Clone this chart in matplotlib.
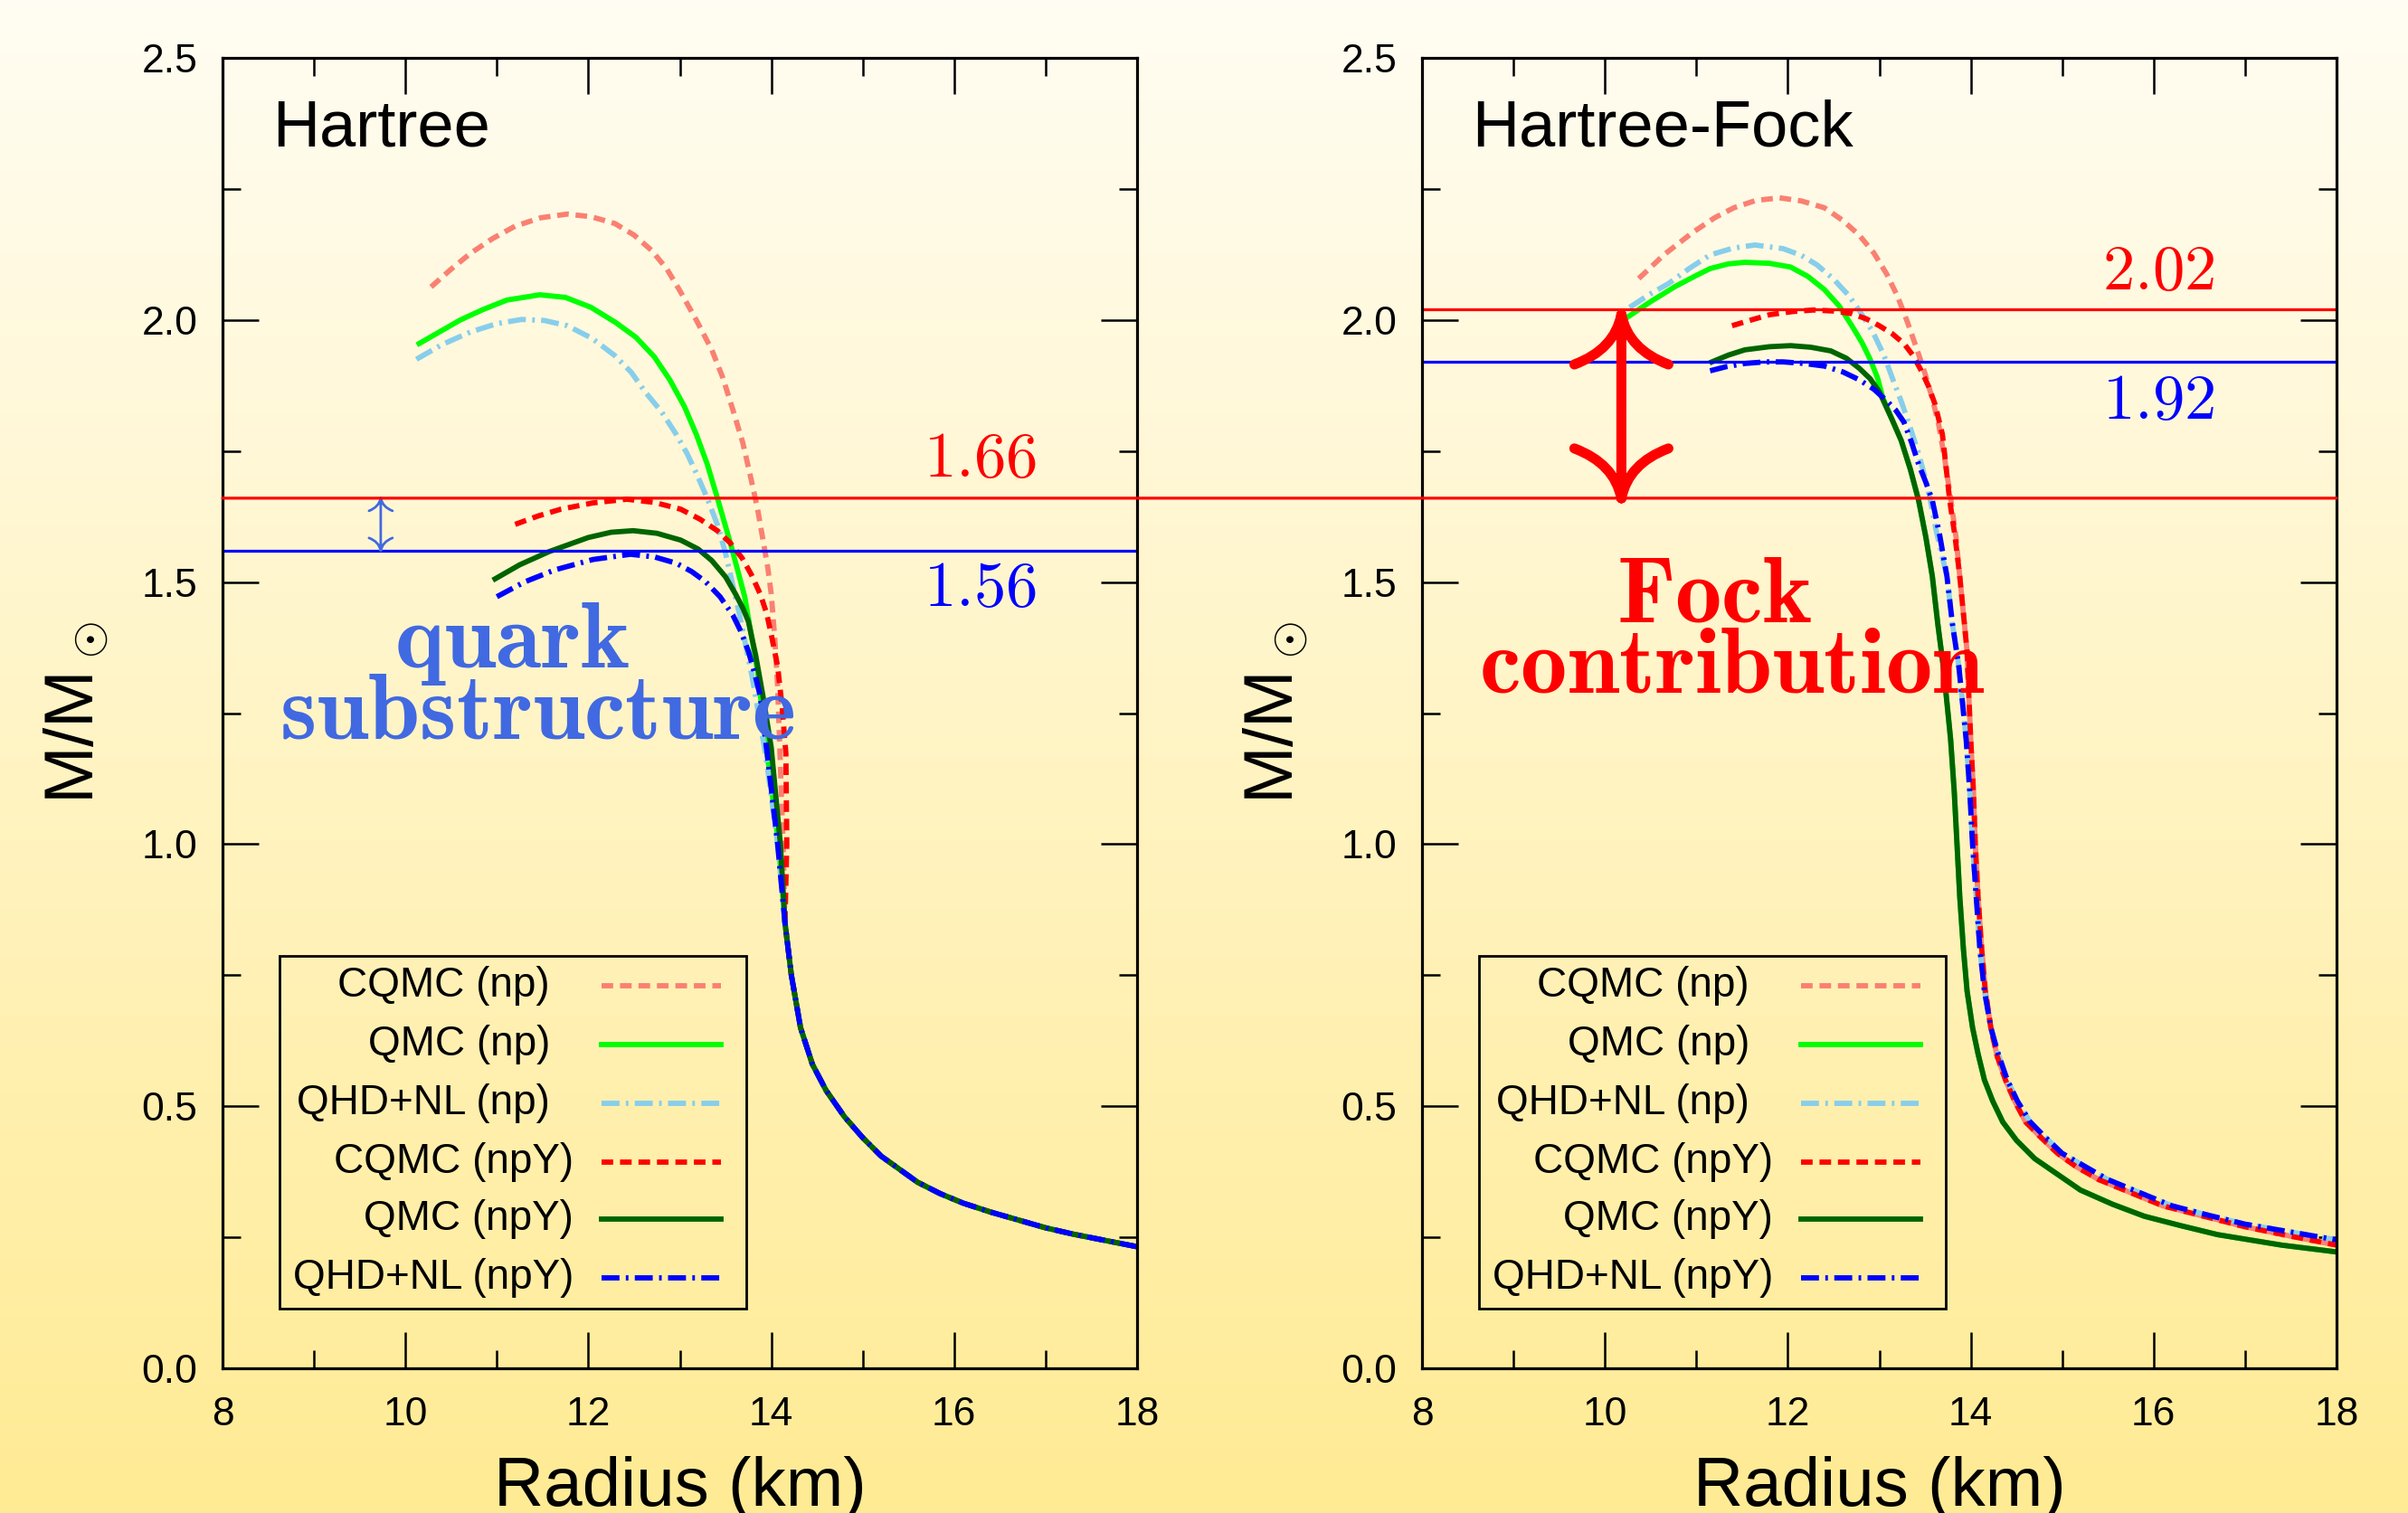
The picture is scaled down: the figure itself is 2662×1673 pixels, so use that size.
import numpy as np
import matplotlib
matplotlib.use("Agg")
import matplotlib.pyplot as plt
from matplotlib.patches import Rectangle, PathPatch, ConnectionPatch
from matplotlib.path import Path
from matplotlib.transforms import IdentityTransform
from matplotlib.ticker import MultipleLocator, FormatStrFormatter

plt.rcParams['font.family'] = ['Liberation Sans', 'DejaVu Sans']
plt.rcParams['mathtext.fontset'] = 'cm'

# ---- data: radius (km), mass (M_sun) ----
# Hartree panel
h_cqmc_np_r = [10.28, 10.5, 10.71, 10.95, 11.2, 11.48, 11.77, 12.03, 12.29, 12.5, 12.69, 12.86,
               13.01, 13.18, 13.35, 13.47, 13.58, 13.69, 13.78, 13.85, 13.91, 13.96, 14.0, 14.04,
               14.07, 14.1, 14.13]
h_cqmc_np_m = [2.063, 2.097, 2.127, 2.155, 2.179, 2.195, 2.202, 2.197, 2.184, 2.162, 2.133, 2.097,
               2.053, 2.0, 1.943, 1.89, 1.829, 1.765, 1.696, 1.64, 1.58, 1.53, 1.477, 1.39,
               1.30, 1.15, 1.0]
h_qmc_np_r = [10.15, 10.4, 10.6, 10.85, 11.11, 11.47, 11.75, 12.03, 12.3, 12.52, 12.72, 12.89,
              13.05, 13.18, 13.3, 13.41, 13.56, 13.71, 13.85, 13.95, 14.08]
h_qmc_np_m = [1.955, 1.98, 2.0, 2.02, 2.038, 2.048, 2.043, 2.024, 1.995, 1.967, 1.93, 1.886,
              1.835, 1.782, 1.725, 1.661, 1.57, 1.472, 1.33, 1.18, 1.0]
h_qhd_np_r = [10.12, 10.4, 10.71, 11.0, 11.27, 11.52, 11.77, 12.04, 12.29, 12.47, 12.62, 12.8,
              12.96, 13.08, 13.18, 13.3, 13.41, 13.5, 13.58, 13.65, 13.72, 13.79, 13.85, 13.94,
              14.07]
h_qhd_np_m = [1.925, 1.953, 1.977, 1.993, 2.001, 1.999, 1.989, 1.965, 1.932, 1.9, 1.863, 1.825,
              1.782, 1.745, 1.708, 1.66, 1.61, 1.555, 1.494, 1.44, 1.38, 1.32, 1.26, 1.17, 1.0]
h_cqmc_npy_r = [11.2, 11.45, 11.7, 12.05, 12.42, 12.72, 13.01, 13.22, 13.41, 13.55, 13.68, 13.78,
                13.88, 13.95, 14.0, 14.07, 14.12, 14.16, 14.17]
h_cqmc_npy_m = [1.61, 1.626, 1.639, 1.651, 1.658, 1.652, 1.639, 1.62, 1.598, 1.575, 1.546, 1.515,
                1.477, 1.44, 1.40, 1.339, 1.26, 1.173, 1.0]
h_qmc_npy_r = [10.98, 11.25, 11.57, 12.0, 12.25, 12.49, 12.75, 13.01, 13.2, 13.35, 13.5, 13.61,
               13.69, 13.75, 13.83, 13.91, 14.0, 14.1]
h_qmc_npy_m = [1.506, 1.533, 1.558, 1.585, 1.595, 1.598, 1.593, 1.58, 1.563, 1.541, 1.51, 1.477,
               1.45, 1.425, 1.36, 1.282, 1.184, 1.0]
h_qhd_npy_r = [11.0, 11.3, 11.63, 12.05, 12.46, 12.72, 12.96, 13.13, 13.28, 13.44, 13.58, 13.67,
               13.75, 13.82, 13.88, 13.94, 14.07]
h_qhd_npy_m = [1.472, 1.5, 1.523, 1.543, 1.553, 1.548, 1.536, 1.52, 1.501, 1.472, 1.437, 1.405,
               1.368, 1.325, 1.282, 1.196, 1.0]
h_tail_r = [14.15, 14.22, 14.32, 14.45, 14.6, 14.8, 15.0, 15.2, 15.4, 15.6, 15.85, 16.1, 16.4,
            16.7, 17.0, 17.3, 17.65, 18.0]
h_tail_m = [0.85, 0.75, 0.65, 0.58, 0.53, 0.48, 0.44, 0.405, 0.38, 0.355, 0.333, 0.315, 0.298,
            0.283, 0.268, 0.256, 0.244, 0.232]

# Hartree-Fock panel
hf_cqmc_np_r = [10.37, 10.65, 10.96, 11.2, 11.41, 11.65, 11.91, 12.15, 12.40, 12.6, 12.78, 12.94,
                13.08, 13.2, 13.31, 13.41, 13.50, 13.58, 13.65, 13.72, 13.78, 13.84]
hf_cqmc_np_m = [2.079, 2.125, 2.167, 2.195, 2.214, 2.228, 2.233, 2.227, 2.214, 2.19, 2.162, 2.128,
                2.088, 2.045, 1.995, 1.945, 1.898, 1.85, 1.80, 1.73, 1.66, 1.585]
hf_qmc_np_r = [10.21, 10.5, 10.77, 11.0, 11.15, 11.35, 11.53, 11.8, 12.03, 12.22, 12.40, 12.56,
               12.70, 12.81, 12.90, 12.98, 13.04, 13.14, 13.24, 13.34, 13.43, 13.51]
hf_qmc_np_m = [2.001, 2.035, 2.064, 2.085, 2.098, 2.107, 2.110, 2.108, 2.101, 2.083, 2.058, 2.027,
               1.989, 1.957, 1.925, 1.89, 1.851, 1.81, 1.770, 1.715, 1.656, 1.585]
hf_qhd_np_r = [10.27, 10.48, 10.70, 10.92, 11.15, 11.4, 11.64, 11.95, 12.15, 12.32, 12.5, 12.67,
               12.8, 12.93, 13.05, 13.15, 13.25, 13.34, 13.43, 13.50, 13.56, 13.62, 13.68]
hf_qhd_np_m = [2.024, 2.048, 2.070, 2.098, 2.124, 2.137, 2.143, 2.136, 2.123, 2.105, 2.078, 2.046,
               2.013, 1.977, 1.933, 1.886, 1.84, 1.794, 1.745, 1.70, 1.655, 1.60, 1.555]
hf_cqmc_npy_r = [11.39, 11.6, 11.80, 12.05, 12.28, 12.5, 12.70, 12.86, 13.0, 13.14, 13.27, 13.37,
                 13.46, 13.54, 13.61, 13.69, 13.73, 13.77, 13.83]
hf_cqmc_npy_m = [1.989, 2.0, 2.010, 2.016, 2.019, 2.017, 2.012, 2.002, 1.989, 1.974, 1.955, 1.932,
                 1.903, 1.873, 1.839, 1.782, 1.72, 1.656, 1.585]
hf_qmc_npy_r = [11.17, 11.35, 11.53, 11.8, 12.03, 12.25, 12.47, 12.64, 12.78, 12.9, 13.0, 13.14,
                13.24, 13.34, 13.43, 13.51]
hf_qmc_npy_m = [1.920, 1.933, 1.943, 1.949, 1.951, 1.948, 1.941, 1.927, 1.908, 1.888, 1.863, 1.81,
                1.770, 1.715, 1.656, 1.585]
hf_qhd_npy_r = [11.15, 11.33, 11.53, 11.75, 11.95, 12.18, 12.40, 12.6, 12.78, 12.94, 13.08, 13.18,
                13.27, 13.35, 13.43, 13.51, 13.58, 13.66]
hf_qhd_npy_m = [1.903, 1.911, 1.917, 1.920, 1.920, 1.917, 1.912, 1.901, 1.886, 1.868, 1.846, 1.828,
                1.805, 1.768, 1.725, 1.69, 1.656, 1.59]
hf_tail_cqmc_r = [13.88, 13.92, 13.96, 13.98, 14.0, 14.03, 14.05, 14.08, 14.12, 14.16, 14.22,
                  14.29, 14.38, 14.48, 14.6, 14.77, 14.95, 15.15, 15.4, 15.75, 16.1, 16.55, 17.0,
                  17.5, 18.0]
hf_tail_cqmc_m = [1.511, 1.44, 1.368, 1.28, 1.2, 1.1, 1.0, 0.9, 0.8, 0.72, 0.65, 0.595, 0.55,
                  0.51, 0.47, 0.44, 0.41, 0.385, 0.36, 0.335, 0.31, 0.29, 0.27, 0.252, 0.235]
hf_tail_qmc_r = [13.58, 13.64, 13.70, 13.74, 13.78, 13.82, 13.85, 13.88, 13.92, 13.96, 14.02,
                 14.08, 14.15, 14.24, 14.35, 14.5, 14.7, 14.95, 15.2, 15.55, 15.9, 16.3, 16.7,
                 17.05, 17.4, 18.0]
hf_tail_qmc_m = [1.511, 1.42, 1.339, 1.27, 1.2, 1.1, 1.0, 0.9, 0.8, 0.72, 0.65, 0.6, 0.55, 0.51,
                 0.47, 0.435, 0.40, 0.37, 0.34, 0.313, 0.29, 0.272, 0.255, 0.245, 0.235, 0.222]
hf_tail_qhd_r = [13.74, 13.80, 13.87, 13.91, 13.95, 13.99, 14.02, 14.06, 14.1, 14.15, 14.22, 14.3,
                 14.4, 14.51, 14.65, 14.82, 15.0, 15.25, 15.5, 15.85, 16.2, 16.6, 17.0, 17.5,
                 18.0]
hf_tail_qhd_m = [1.511, 1.42, 1.339, 1.27, 1.2, 1.1, 1.0, 0.9, 0.8, 0.72, 0.65, 0.6, 0.55, 0.51,
                 0.47, 0.44, 0.41, 0.385, 0.36, 0.335, 0.31, 0.292, 0.275, 0.26, 0.245]

labels = ['CQMC (np)', 'QMC (np)', 'QHD+NL (np)', 'CQMC (npY)', 'QMC (npY)', 'QHD+NL (npY)']
colors = ['#FA8072', '#00FF00', '#87CEEB', '#FF0000', '#006400', '#0000FF']
dash_kinds = ['dash', 'solid', 'dashdot', 'dash', 'solid', 'dashdot']

hartree_max = [1.66, 1.56]
fock_max = [2.02, 1.92]

hartree = [
    (h_cqmc_np_r + h_tail_r, h_cqmc_np_m + h_tail_m),
    (h_qmc_np_r + h_tail_r, h_qmc_np_m + h_tail_m),
    (h_qhd_np_r + h_tail_r, h_qhd_np_m + h_tail_m),
    (h_cqmc_npy_r + h_tail_r, h_cqmc_npy_m + h_tail_m),
    (h_qmc_npy_r + h_tail_r, h_qmc_npy_m + h_tail_m),
    (h_qhd_npy_r + h_tail_r, h_qhd_npy_m + h_tail_m),
]
fock = [
    (hf_cqmc_np_r + hf_tail_cqmc_r, hf_cqmc_np_m + hf_tail_cqmc_m),
    (hf_qmc_np_r + hf_tail_qmc_r, hf_qmc_np_m + hf_tail_qmc_m),
    (hf_qhd_np_r + hf_tail_qhd_r, hf_qhd_np_m + hf_tail_qhd_m),
    (hf_cqmc_npy_r + hf_tail_cqmc_r, hf_cqmc_npy_m + hf_tail_cqmc_m),
    (hf_qmc_npy_r + hf_tail_qmc_r, hf_qmc_npy_m + hf_tail_qmc_m),
    (hf_qhd_npy_r + hf_tail_qhd_r, hf_qhd_npy_m + hf_tail_qhd_m),
]

LW = 4.2
DASHES = {'dash': (2.2, 1.3), 'dashdot': (3.4, 1.2, 0.5, 1.2)}


def style(kind):
    if kind == 'solid':
        return dict(linestyle='-')
    return dict(dashes=DASHES[kind])


W, H = 2662, 1673
fig = plt.figure(figsize=(W / 100, H / 100), dpi=100)

# background gradient
bg = fig.add_axes([0, 0, 1, 1], zorder=-10)
t = np.linspace(0, 1, 256)[:, None, None]
top = np.array([255, 253, 243]) / 255
bot = np.array([255, 235, 148]) / 255
bg.imshow(top + (bot - top) * t, aspect='auto', extent=[0, 1, 0, 1])
bg.axis('off')

ax1 = fig.add_axes([246 / W, 160 / H, 1011 / W, 1449 / H])
ax2 = fig.add_axes([1572 / W, 160 / H, 1011 / W, 1449 / H])


def brace_arrow(ax, x, y0, y1, color, lw, hw, hh):
    (px, p0), (_, p1) = ax.transData.transform([(x, y0), (x, y1)])
    verts = [(px, p0), (px, p1)]
    codes = [Path.MOVETO, Path.LINETO]
    for tip, s in ((p1, -1), (p0, 1)):
        for side in (-1, 1):
            verts += [(px, tip), (px + side * 0.15 * hw, tip + s * 0.7 * hh),
                      (px + side * hw, tip + s * hh)]
            codes += [Path.MOVETO, Path.CURVE3, Path.CURVE3]
    patch = PathPatch(Path(verts, codes), transform=IdentityTransform(), fill=False,
                      ec=color, lw=lw, capstyle='round', joinstyle='round', zorder=6)
    patch.set_clip_on(False)
    ax.add_artist(patch)


for ax, curves, title in ((ax1, hartree, 'Hartree'), (ax2, fock, 'Hartree-Fock')):
    ax.set_facecolor('none')
    ax.set_xlim(8, 18)
    ax.set_ylim(0, 2.5)
    ax.xaxis.set_major_locator(MultipleLocator(2))
    ax.xaxis.set_minor_locator(MultipleLocator(1))
    ax.yaxis.set_major_locator(MultipleLocator(0.5))
    ax.yaxis.set_minor_locator(MultipleLocator(0.25))
    ax.yaxis.set_major_formatter(FormatStrFormatter('%.1f'))
    ax.tick_params(which='both', direction='in', top=True, right=True, width=1.8,
                   labelsize=32)
    ax.tick_params(which='major', length=29)
    ax.tick_params(axis='x', which='major', pad=22)
    ax.tick_params(axis='y', which='major', pad=20)
    ax.tick_params(which='minor', length=14.5)
    for sp in ax.spines.values():
        sp.set_linewidth(2.3)

    for (r, m), c, k in zip(curves, colors, dash_kinds):
        ax.plot(r, m, color=c, lw=LW, **style(k))

    # key drawn the gnuplot way: text right-justified, sample on the right
    rows = [0.730, 0.618, 0.506, 0.394, 0.285, 0.173]
    for lab, c, k, yy in zip(labels, colors, dash_kinds, rows):
        xr = 11.84 if 'npY' in lab else 11.58
        ax.text(xr, yy, lab, fontsize=33, ha='right', va='center')
        ax.plot([12.14, 13.45], [yy, yy], color=c, lw=LW, **style(k))
    ax.add_patch(Rectangle((8.62, 0.114), 13.73 - 8.62, 0.787 - 0.114, fill=False,
                           lw=2.0, ec='black'))

    ax.text(8.55, 2.331, title, fontsize=52, ha='left', va='baseline')
    ax.set_xlabel('Radius (km)', fontsize=55, va='baseline')
    ax.xaxis.set_label_coords(0.5, -0.105)
    ax.set_ylabel(r'M/M$_\odot$', fontsize=55, va='baseline')
    ax.yaxis.set_label_coords(-0.1405, 0.5)

# reference lines
con = ConnectionPatch(xyA=(8, hartree_max[0]), coordsA=ax1.transData,
                      xyB=(18, hartree_max[0]), coordsB=ax2.transData,
                      color='#FF0000', lw=2.3, zorder=5)
fig.add_artist(con)
ax1.axhline(hartree_max[1], color='#0000FF', lw=2.3)
ax2.axhline(fock_max[0], color='#FF0000', lw=2.3)
ax2.axhline(fock_max[1], color='#0000FF', lw=2.3)

num_kw = dict(fontsize=51, ha='center', va='center')
ax1.text(16.28, 1.732, r'$\mathbf{%.2f}$' % hartree_max[0], color='#FF0000', **num_kw)
ax1.text(16.28, 1.486, r'$\mathbf{%.2f}$' % hartree_max[1], color='#0000FF', **num_kw)
ax2.text(16.05, 2.089, r'$\mathbf{%.2f}$' % fock_max[0], color='#FF0000', **num_kw)
ax2.text(16.05, 1.843, r'$\mathbf{%.2f}$' % fock_max[1], color='#0000FF', **num_kw)

big_kw = dict(fontsize=74, ha='center', va='baseline')
ax1.text(11.16, 1.337, r'$\mathbf{quark}$', color='#4169E1', **big_kw)
ax1.text(11.44, 1.201, r'$\mathbf{substructure}$', color='#4169E1', **big_kw)
ax2.text(11.20, 1.425, r'$\mathbf{Fock}$', color='#FF0000', **big_kw)
ax2.text(11.39, 1.289, r'$\mathbf{contribution}$', color='#FF0000', **big_kw)

brace_arrow(ax1, 9.73, hartree_max[1], hartree_max[0], '#4169E1', 2.0, 13, 14)
brace_arrow(ax2, 10.18, hartree_max[0], 2.01, '#FF0000', 8.0, 52, 55)

fig.savefig('out.png', dpi=100)
